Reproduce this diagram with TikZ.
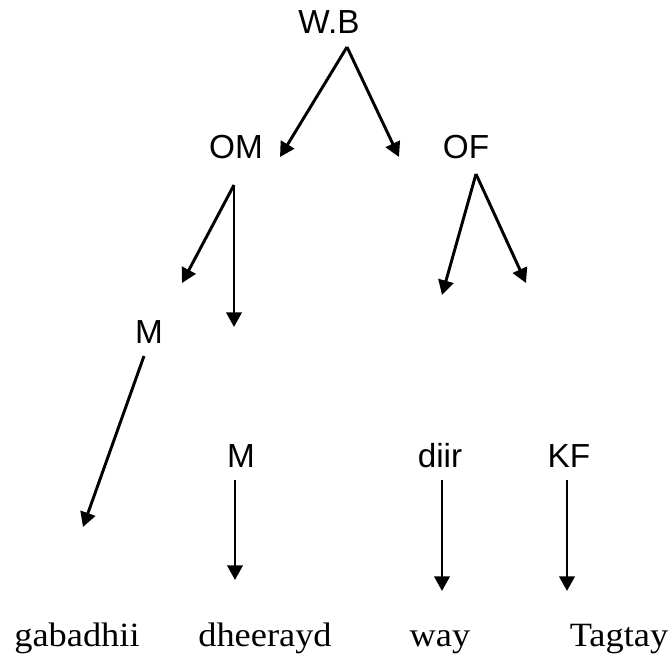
\documentclass[tikz,border=0pt]{standalone}
\usepackage{fontspec}
\setmainfont{Liberation Serif}
\newfontfamily\kinfont{Liberation Sans}
\newfontfamily\wordfont{Liberation Serif}[FakeStretch=1.07]
\usetikzlibrary{arrows.meta}

\tikzset{
  kin/.style={font=\kinfont\fontsize{25}{30}\selectfont, inner sep=0.75pt, anchor=base},
  word/.style={font=\wordfont\fontsize{25.5}{30}\selectfont, inner sep=0.75pt, anchor=base},
  link/.style={line width=2.2pt, -{Triangle[length=11pt,width=11.5pt]}}
}

\begin{document}
\begin{tikzpicture}[x=0.75pt,y=0.75pt,yscale=-1,xscale=1]
\useasboundingbox (0,0) rectangle (672,657);

% Text Node
\node[kin] (wb) at (329,33) {W.B};
% Text Node
\node[kin] (om) at (236,158) {OM};
% Text Node
\node[kin] (of) at (466,158) {OF};
% Text Node
\node[kin] (m1) at (149,343) {M};
% Text Node
\node[kin] (m2) at (241,467) {M};
% Text Node
\node[kin] (diir) at (440,467) {diir};
% Text Node
\node[kin] (kf) at (569,467) {KF};
% Text Node
\node[word] (gab) at (77,646) {gabadhii};
% Text Node
\node[word] (dhe) at (265,646) {dheerayd};
% Text Node
\node[word] (way) at (440,646) {way};
% Text Node
\node[word] (tag) at (619,646) {Tagtay};

% arrow ends
\coordinate (wb-out) at (347,47);
\coordinate (om-in) at (280,157);
\coordinate (of-in) at (399,157);
\coordinate (om-out) at (234,185);
\coordinate (m1-in) at (182,283);
\coordinate (om-down) at (234,327);
\coordinate (of-out) at (476,174);
\coordinate (of-left) at (442,295);
\coordinate (of-right) at (526,283);
\coordinate (m1-out) at (144,356);
\coordinate (gab-in) at (83,527);
\coordinate (m2-out) at (235,480);
\coordinate (dhe-in) at (235,580);
\coordinate (diir-out) at (442,480);
\coordinate (way-in) at (442,591);
\coordinate (kf-out) at (567,480);
\coordinate (tag-in) at (567,591);

%Straight Lines
\draw [link] (wb-out) -- (om-in);
\draw [link] (wb-out) -- (of-in);
%Straight Lines
\draw [link] (om-out) -- (m1-in);
\draw [link] (om-out) -- (om-down);
%Straight Lines
\draw [link] (of-out) -- (of-left);
\draw [link] (of-out) -- (of-right);
%Straight Lines
\draw [link] (m1-out) -- (gab-in);
\draw [link] (m2-out) -- (dhe-in);
\draw [link] (diir-out) -- (way-in);
\draw [link] (kf-out) -- (tag-in);

\end{tikzpicture}
\end{document}
